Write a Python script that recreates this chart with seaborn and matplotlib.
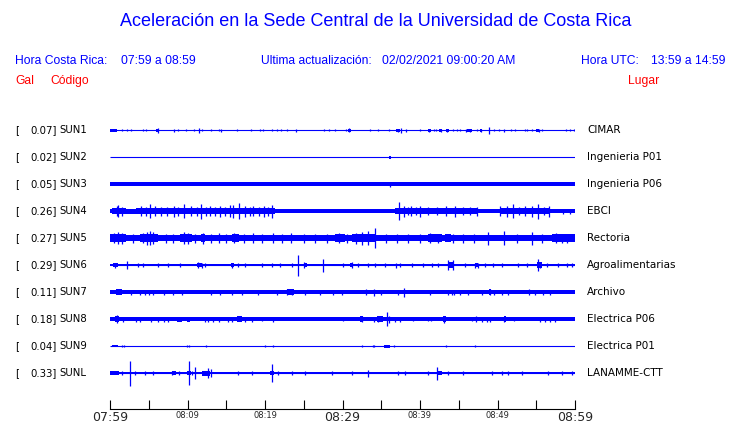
import numpy as np
import matplotlib
matplotlib.use("Agg")
import matplotlib.pyplot as plt
import matplotlib.transforms as mtransforms
import seaborn as sns

# Estaciones (de arriba hacia abajo)
codigos = ["SUN1", "SUN2", "SUN3", "SUN4", "SUN5", "SUN6", "SUN7", "SUN8", "SUN9", "SUNL"]
gal = [0.07, 0.02, 0.05, 0.26, 0.27, 0.29, 0.11, 0.18, 0.04, 0.33]
lugares = ["CIMAR", "Ingenieria P01", "Ingenieria P06", "EBCI", "Rectoria",
           "Agroalimentarias", "Archivo", "Electrica P06", "Electrica P01", "LANAMME-CTT"]

# semiancho del ruido de fondo de cada traza (px)
fondo = [0.5, 0.5, 1.9, 1.7, 3.3, 1.4, 1.7, 1.8, 0.6, 1.3]

# tramos con más ruido: (min inicio, min fin, semiamplitud px)
sun1_tramos = [(0, 0.86, 1.5), (5.9, 6.3, 1.5), (30.7, 31.1, 1.5), (36.9, 37.4, 1.5), (41.0, 41.4, 1.5),
               (42.5, 42.9, 1.5), (43.3, 43.8, 1.5), (46.1, 46.7, 1.5), (47.7, 48.0, 1.5), (55.0, 55.4, 1.5)]
sun2_tramos = [(35.96, 36.2, 1.5)]
sun3_tramos = []
sun4_tramos = [(0.3, 2.0, 3.2), (2.0, 3.3, 2.5), (3.3, 21.3, 3.4), (36.8, 47.3, 3.0), (50.3, 56.8, 3.0),
               (25.4, 25.8, 2.3), (28.6, 29.1, 2.3), (31.2, 31.6, 2.3), (34.0, 34.4, 2.3), (57.9, 58.2, 2.3)]
sun5_tramos = [(0, 2.0, 4.0), (3.9, 6.2, 4.0), (9.0, 10.6, 4.2), (11.8, 12.2, 4.0), (15.7, 16.6, 3.8),
               (29.0, 30.3, 3.9), (31.2, 34.2, 4.0), (41.0, 42.8, 3.9), (43.2, 44.0, 3.8), (57.0, 60, 3.8)]
sun6_tramos = [(0.4, 1.0, 2.3), (11.2, 11.9, 2.0), (15.6, 16.0, 2.2), (25.0, 25.4, 2.2), (31.0, 31.4, 2.2),
               (43.6, 44.4, 2.8), (47.1, 47.5, 2.2), (55.1, 55.8, 2.8)]
sun7_tramos = [(0.8, 1.6, 2.6), (4.5, 5.8, 2.4), (7.6, 7.8, 2.4), (16.9, 17.3, 2.4), (22.8, 23.7, 2.8),
               (34.6, 35.0, 2.4), (37.8, 38.1, 2.4), (43.3, 43.9, 2.4), (48.9, 49.2, 2.6), (54.0, 54.4, 2.4)]
sun8_tramos = [(0.6, 1.2, 2.8), (8.6, 9.3, 2.5), (9.9, 10.3, 2.5), (16.4, 17.0, 3.0), (32.3, 32.7, 2.8),
               (34.5, 35.2, 2.6), (43.0, 43.4, 2.8), (50.8, 51.1, 2.6)]
sun9_tramos = [(0.2, 1.0, 1.4), (35.4, 36.1, 1.5)]
sunl_tramos = [(0, 1.2, 1.8), (8.0, 8.5, 2.0), (9.9, 10.4, 2.0), (11.9, 12.9, 2.5), (20.6, 21.2, 2.0),
               (42.3, 42.8, 2.0)]

# picos: (minuto, semiamplitud px)
sun1_picos = [(1.6, 1.0), (2.15, 1.2), (2.7, 1.2), (4.2, 1.2), (4.65, 1.2), (6.15, 2.5), (8.3, 1.5), (8.8, 1.0),
              (9.75, 1.0), (10.9, 1.0), (11.5, 2.5), (11.9, 1.2), (13.0, 1.0), (14.0, 1.2), (14.3, 1.5),
              (16.4, 1.2), (18.2, 1.2), (19.4, 1.2), (19.8, 1.0), (20.9, 1.2), (21.5, 1.2), (22.1, 1.2),
              (22.8, 1.2), (24.0, 1.5), (27.6, 1.0), (28.3, 1.2), (29.0, 1.2), (30.4, 1.0), (30.9, 2.0),
              (33.5, 1.0), (34.6, 1.2), (36.0, 1.2), (37.1, 1.5), (37.6, 2.5), (38.2, 1.5), (40.0, 1.0),
              (41.2, 1.5), (41.8, 1.2), (42.0, 1.2), (42.7, 1.5), (43.5, 1.5), (44.3, 1.2), (44.8, 1.2),
              (45.2, 1.2), (45.9, 1.5), (46.4, 1.5), (47.3, 1.0), (47.9, 1.5), (48.9, 3.5), (49.5, 1.2),
              (50.2, 1.2), (50.8, 1.5), (51.8, 1.2), (52.3, 1.0), (53.5, 1.2), (53.8, 1.0), (54.4, 1.2),
              (55.3, 1.5), (55.8, 1.0), (58.8, 1.2), (59.4, 1.0), (59.9, 1.2)]
sun2_picos = []
sun3_picos = [(36.1, 2.5)]
sun4_picos = [(0.9, 5.0), (1.0, 6.0), (1.6, 4.5), (4.0, 5.0), (4.6, 4.5), (5.1, 7.0), (5.8, 5.0), (6.6, 4.5),
              (7.3, 4.5), (8.2, 5.5), (8.8, 4.5), (9.5, 7.0), (10.5, 5.0), (11.2, 4.5), (11.8, 7.5), (12.4, 4.5),
              (12.9, 5.0), (13.6, 4.5), (14.2, 5.5), (14.8, 4.5), (15.5, 6.0), (15.9, 6.5), (16.6, 8.0),
              (17.4, 5.5), (18.0, 4.5), (18.5, 5.0), (19.2, 4.5), (19.9, 5.5), (20.4, 4.5), (20.9, 6.5),
              (37.3, 9.0), (37.9, 5.5), (38.4, 4.0), (38.9, 5.0), (39.5, 4.0), (40.0, 5.5), (41.0, 4.0),
              (42.2, 4.0), (43.4, 5.0), (44.5, 5.5), (45.6, 4.0), (46.5, 4.0), (47.3, 4.5), (50.3, 5.0),
              (51.2, 5.5), (52.0, 7.0), (52.8, 4.0), (53.5, 5.0), (54.4, 5.5), (55.2, 7.5), (56.0, 4.0),
              (56.6, 5.5), (58.5, 2.5), (59.4, 2.5)]
sun5_picos = [(0.5, 5.0), (1.0, 6.0), (1.6, 5.5), (3.0, 4.5), (4.3, 5.0), (4.8, 6.5), (5.1, 7.0), (5.6, 6.0),
              (7.2, 4.5), (8.1, 4.5), (9.5, 6.0), (10.1, 5.5), (11.0, 4.5), (12.0, 5.5), (13.0, 4.5),
              (14.0, 5.0), (15.0, 4.5), (16.0, 5.0), (17.3, 4.5), (18.5, 5.0), (19.6, 4.5), (21.0, 5.0),
              (22.2, 4.5), (23.4, 5.0), (25.0, 4.5), (26.5, 4.5), (28.0, 4.5), (29.5, 5.0), (30.6, 4.5),
              (31.8, 5.5), (32.5, 6.5), (33.3, 7.0), (34.2, 10.0), (35.6, 4.5), (37.0, 4.5), (38.5, 4.5),
              (40.0, 4.5), (41.3, 5.0), (42.3, 4.5), (44.2, 4.5), (45.5, 4.5), (47.0, 4.5), (48.8, 6.5),
              (50.8, 7.0), (52.5, 4.5), (54.4, 6.5), (55.8, 4.5), (57.5, 5.0), (58.3, 4.5), (59.0, 4.5)]
sun6_picos = [(0.7, 2.5), (2.15, 4.0), (3.66, 2.0), (4.3, 2.0), (6.24, 2.0), (7.53, 2.0), (9.03, 2.0),
              (11.31, 3.0), (11.83, 2.5), (12.26, 2.0), (15.7, 2.5), (16.56, 2.0), (17.42, 2.0), (19.57, 2.0),
              (20.86, 2.0), (21.94, 2.0), (23.44, 2.0), (24.3, 10.5), (25.03, 3.0), (27.53, 6.5), (30.11, 2.0),
              (31.18, 3.0), (32.04, 2.0), (33.33, 2.0), (34.19, 2.0), (35.48, 2.0), (36.9, 2.5), (37.42, 2.0),
              (38.92, 2.0), (40.43, 2.0), (41.51, 2.0), (42.37, 2.0), (43.66, 5.0), (44.3, 5.0), (45.81, 2.0),
              (47.1, 2.5), (47.5, 2.5), (48.39, 2.0), (49.46, 2.0), (50.54, 2.0), (52.69, 2.0), (53.76, 2.0),
              (55.18, 6.0), (55.48, 3.0), (56.34, 2.0), (57.85, 2.0), (58.92, 2.0), (59.57, 2.0)]
sun7_picos = [(2.71, 2.5), (3.87, 2.5), (4.5, 2.5), (5.0, 2.5), (5.6, 2.5), (7.01, 2.5), (8.09, 2.5), (9.33, 2.5),
              (13.03, 2.5), (14.19, 2.5), (15.7, 2.5), (17.0, 2.5), (19.14, 2.5), (21.51, 2.5), (22.9, 3.0),
              (23.5, 3.0), (25.16, 2.5), (27.1, 2.5), (28.82, 2.5), (29.89, 2.5), (33.03, 3.0), (34.11, 3.5),
              (34.97, 2.5), (37.12, 2.5), (37.94, 4.5), (41.29, 2.5), (43.66, 2.5), (44.09, 2.5), (44.43, 2.5),
              (45.16, 2.5), (46.24, 2.5), (47.96, 2.5), (49.03, 3.0), (49.55, 2.5), (50.54, 2.5), (51.4, 2.5),
              (54.06, 3.0), (54.84, 2.5), (55.91, 2.5), (56.77, 2.5)]
sun8_picos = [(0.86, 4.0), (1.72, 2.5), (3.35, 2.5), (3.87, 2.5), (5.29, 2.5), (6.24, 2.5), (7.01, 2.5),
              (7.53, 2.5), (12.26, 2.5), (12.69, 2.5), (13.33, 2.5), (14.11, 2.5), (15.27, 2.5), (15.78, 2.5),
              (17.42, 2.5), (18.28, 2.5), (19.6, 2.3), (20.99, 2.5), (30.11, 2.0), (32.47, 3.0), (34.11, 2.5),
              (34.62, 2.5), (35.7, 7.0), (36.0, 3.5), (36.77, 2.5), (37.42, 2.5), (39.14, 2.3), (41.08, 2.3),
              (41.38, 2.3), (43.14, 3.5), (46.67, 2.3), (47.18, 3.0), (47.96, 2.5), (48.6, 2.5), (49.03, 2.5),
              (50.88, 2.5), (52.17, 2.3), (55.48, 2.5), (56.13, 2.5), (56.77, 2.5), (57.42, 2.5)]
sun9_picos = [(1.59, 1.0), (1.81, 1.0), (9.89, 1.0), (10.24, 1.0), (12.39, 1.0), (20.0, 1.2), (21.08, 1.0),
              (32.56, 1.2), (33.89, 1.0), (34.11, 1.0), (36.69, 1.2), (43.4, 1.2), (47.1, 1.2)]
sunl_picos = [(1.59, 2.0), (2.62, 12.5), (3.23, 2.0), (4.52, 2.0), (5.59, 2.0), (7.96, 2.0), (8.9, 2.0),
              (10.24, 12.0), (10.62, 2.0), (10.97, 6.0), (12.69, 5.0), (13.03, 4.0), (16.56, 2.0), (18.28, 2.0),
              (20.86, 9.0), (21.72, 2.0), (23.44, 2.0), (25.16, 2.0), (28.6, 2.0), (31.18, 2.0), (33.33, 3.5),
              (37.2, 2.0), (38.06, 2.0), (41.08, 2.0), (42.24, 6.5), (43.66, 2.0), (45.59, 2.0), (49.25, 2.0),
              (50.54, 2.0), (51.4, 2.0), (53.12, 2.0), (56.56, 2.0), (58.28, 2.0), (59.57, 2.0)]

tramos = [sun1_tramos, sun2_tramos, sun3_tramos, sun4_tramos, sun5_tramos,
          sun6_tramos, sun7_tramos, sun8_tramos, sun9_tramos, sunl_tramos]
picos = [sun1_picos, sun2_picos, sun3_picos, sun4_picos, sun5_picos,
         sun6_picos, sun7_picos, sun8_picos, sun9_picos, sunl_picos]

ticks_min = list(range(0, 61, 10))
ticks_lbl = ["07:59", "08:09", "08:19", "08:29", "08:39", "08:49", "08:59"]

sns.set_theme(style="white")
plt.rcParams['font.family'] = ['DejaVu Sans']

AZUL = "#0000ff"
ROJO = "#ff0000"
W, H = 740, 423
PX = 27.0  # pixeles entre trazas

fig = plt.figure(figsize=(W / 100, H / 100), dpi=100)
# eje de las trazas: x de 110 a 575 px, y de 103 a 409 px
ax = fig.add_axes([110 / W, 1 - 409 / H, 465 / W, 306 / H])
ax.set_xlim(0, 60)
ax.set_ylim(10.3333, -1)

for i in range(len(codigos)):
    b = fondo[i] / PX
    ax.hlines(i, 0, 60, color=AZUL, lw=0.8)
    if fondo[i] > 0.6:
        ax.fill_between([0, 60], i - b, i + b, color=AZUL, lw=0)
    for t0, t1, a in tramos[i]:
        ax.fill_between([t0, t1], i - a / PX, i + a / PX, color=AZUL, lw=0)
    if picos[i]:
        t = np.array([p[0] for p in picos[i]])
        a = np.array([p[1] for p in picos[i]]) / PX
        ax.vlines(t, i - a, i + a, color=AZUL, lw=0.9)

# eje de tiempo
ax.set_xticks(ticks_min)
ax.set_xticklabels(ticks_lbl)
ax.set_xticks(range(5, 60, 10), minor=True)
ax.set_yticks([])
ax.tick_params(axis='x', which='both', direction='in', length=6.5, width=0.8,
               color='black', bottom=True, pad=1.2)
for lbl in ax.get_xticklabels():
    if lbl.get_text() in ("07:59", "08:29", "08:59"):
        lbl.set_fontsize(9)
    else:
        lbl.set_fontsize(6)
sns.despine(ax=ax, left=True, top=True, right=True)
ax.spines['bottom'].set_color('black')
ax.spines['bottom'].set_linewidth(0.8)
ax.patch.set_alpha(0)

# etiquetas de cada traza
trans = mtransforms.blended_transform_factory(fig.transFigure, ax.transData)
for i in range(len(codigos)):
    ax.text(15 / W, i, "[", transform=trans, fontsize=7.3, va='center', ha='left', color='black')
    ax.text(57 / W, i, f"{gal[i]:.2f}]", transform=trans, fontsize=7.3, va='center', ha='right', color='black')
    ax.text(59 / W, i, codigos[i], transform=trans, fontsize=7.3, va='center', ha='left', color='black')
    ax.text(587 / W, i, lugares[i], transform=trans, fontsize=7.5, va='center', ha='left', color='black')

# encabezado
arial = ['Liberation Sans', 'DejaVu Sans']
fig.text(376 / W, 1 - 22 / H, "Aceleración en la Sede Central de la Universidad de Costa Rica",
         fontsize=13, color=AZUL, family=arial, ha='center', va='center')
yh = 1 - 61 / H
fig.text(15 / W, yh, "Hora Costa Rica:", fontsize=8.7, color=AZUL, family=arial, va='center')
fig.text(121 / W, yh, "07:59 a 08:59", fontsize=8.7, color=AZUL, family=arial, va='center')
fig.text(261 / W, yh, "Ultima actualización:", fontsize=8.7, color=AZUL, family=arial, va='center')
fig.text(382 / W, yh, "02/02/2021 09:00:20 AM", fontsize=8.7, color=AZUL, family=arial, va='center')
fig.text(581 / W, yh, "Hora UTC:", fontsize=8.7, color=AZUL, family=arial, va='center')
fig.text(651 / W, yh, "13:59 a 14:59", fontsize=8.7, color=AZUL, family=arial, va='center')
yg = 1 - 81 / H
fig.text(15 / W, yg, "Gal", fontsize=8.7, color=ROJO, family=arial, va='center')
fig.text(50 / W, yg, "Código", fontsize=8.7, color=ROJO, family=arial, va='center')
fig.text(628 / W, yg, "Lugar", fontsize=8.7, color=ROJO, family=arial, va='center')

fig.savefig("out.png", dpi=100, facecolor='white')
